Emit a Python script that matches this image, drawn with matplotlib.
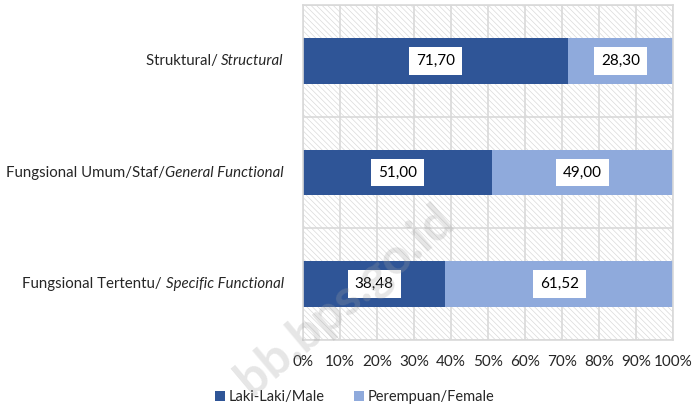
import matplotlib.pyplot as plt
import numpy as np

plt.rcParams['font.family'] = ['Lato', 'DejaVu Sans']
plt.rcParams['hatch.linewidth'] = 0.5
plt.rcParams['hatch.color'] = '#DADADA'

# data, bottom to top
cat_main = ['Fungsional Tertentu/ ', 'Fungsional Umum/Staf/', 'Struktural/ ']
cat_italic = ['Specific Functional', 'General Functional', 'Structural']
male = [38.48, 51.00, 71.70]
female = [61.52, 49.00, 28.30]
series_names = ['Laki-Laki/Male', 'Perempuan/Female']
colors = ['#2F5597', '#8FAADC']

fig = plt.figure(figsize=(6.95, 4.08), dpi=100)
ax = fig.add_axes([303 / 695, 1 - 340 / 408, 370 / 695, 335 / 408])

y = np.arange(len(male))
ax.set_xlim(0, 100)
ax.set_ylim(-0.5, len(male) - 0.5)

# hatched background
bg = plt.Rectangle((0, 0), 1, 1, transform=ax.transAxes, facecolor='white',
                   edgecolor='#DADADA', hatch='\\' * 6, linewidth=0, zorder=0)
ax.add_patch(bg)

# gridlines
ax.set_xticks(np.arange(0, 101, 10))
ax.set_xticklabels([f'{v}%' for v in range(0, 101, 10)])
ax.set_yticks(np.arange(-0.5, len(male), 1.0))
ax.set_yticklabels([])
ax.set_axisbelow(True)
ax.grid(True, color='#D9D9D9', linewidth=1.2)
for s in ax.spines.values():
    s.set_color('#D9D9D9')
    s.set_linewidth(1.2)
ax.tick_params(length=0, labelsize=11, colors='#262626', pad=11)

h = 0.41
b1 = ax.barh(y, male, height=h, color=colors[0], label=series_names[0], zorder=2)
b2 = ax.barh(y, female, left=male, height=h, color=colors[1], label=series_names[1], zorder=2)

box = dict(boxstyle='square,pad=0.45', facecolor='white', edgecolor='none')
for i in range(len(male)):
    ax.text(male[i] / 2, y[i], f'{male[i]:.2f}'.replace('.', ','), ha='center', va='center',
            fontsize=11, color='#000000', bbox=box, zorder=3)
    ax.text(male[i] + female[i] / 2, y[i], f'{female[i]:.2f}'.replace('.', ','), ha='center',
            va='center', fontsize=11, color='#000000', bbox=box, zorder=3)

# category labels with italic English part
for i in range(len(male)):
    it = ax.text(-0.052, y[i], cat_italic[i], transform=ax.get_yaxis_transform(),
                 ha='right', va='center', fontsize=10.8, style='italic', color='#262626')
    ax.annotate(cat_main[i], xy=(0, 0), xycoords=it, ha='right', va='bottom',
                fontsize=10.8, color='#262626')

# watermark
fig.text(345 / 695, 1 - 300 / 408, 'bb.bps.go.id', rotation=40, fontsize=36,
         fontweight='bold', color='#A0A0A0', alpha=0.26, ha='center', va='center',
         zorder=10)

fig.legend(handles=[b1, b2], labels=series_names, loc='center', ncol=2,
           bbox_to_anchor=(355 / 695, 1 - 397 / 408), frameon=False, fontsize=10.5,
           handlelength=0.65, handleheight=0.65, handletextpad=0.3, columnspacing=2.0,
           labelcolor='#262626')

fig.savefig('out.png', dpi=100)
